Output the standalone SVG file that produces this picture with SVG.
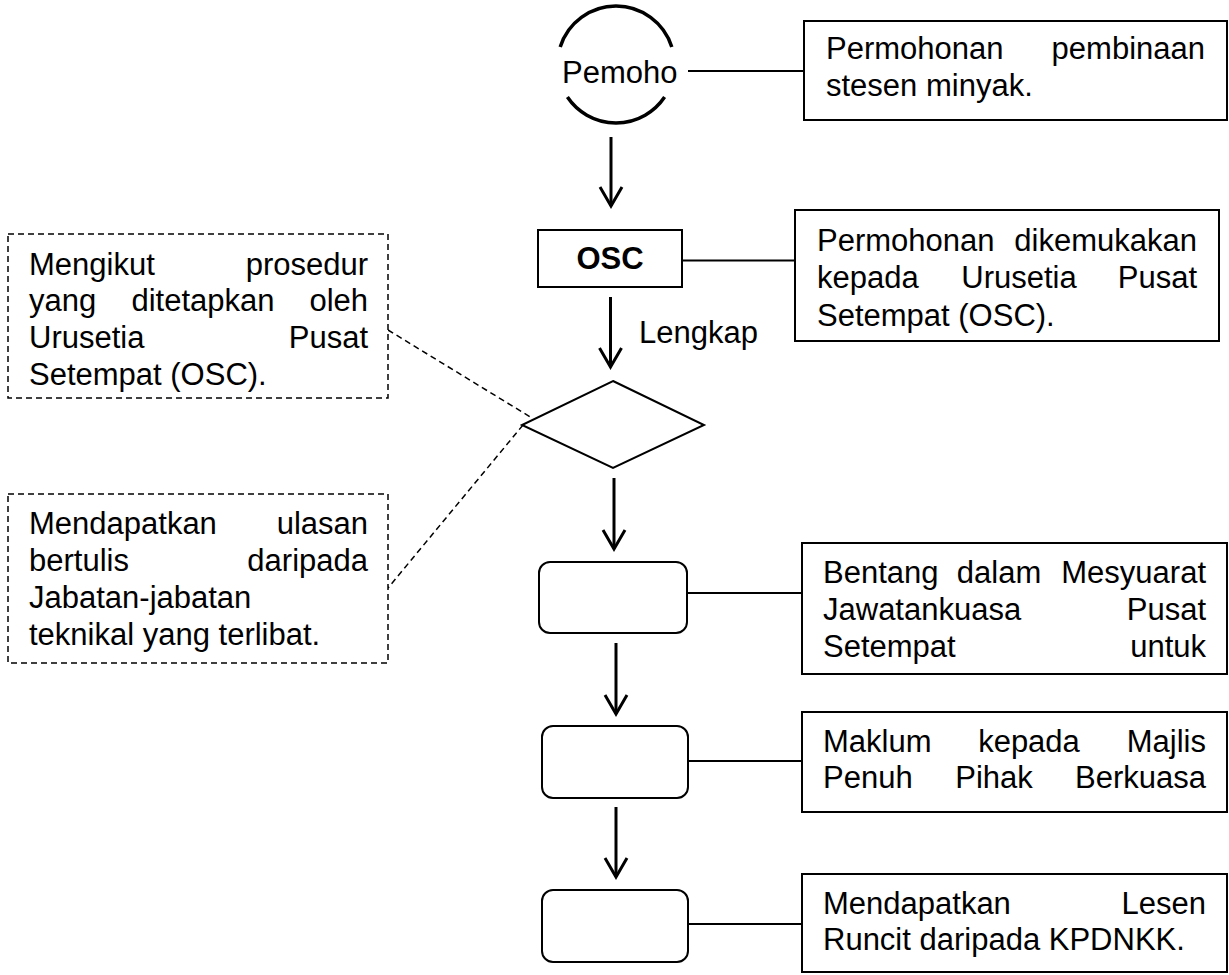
<svg xmlns="http://www.w3.org/2000/svg" width="1229" height="975" viewBox="0 0 1229 975">
<style>
.t{font-family:"Liberation Sans",Arial,sans-serif;font-size:31px;fill:#000}
.e{text-anchor:end}
.m{text-anchor:middle}
.b{font-weight:bold}
.box{fill:#fff;stroke:#000;stroke-width:2}
.dbox{fill:#fff;stroke:#000;stroke-width:1.5;stroke-dasharray:6 4}
.ln{stroke:#000;stroke-width:2;fill:none}
.dl{stroke:#000;stroke-width:1.5;stroke-dasharray:6 4;fill:none}
.ar{stroke:#000;stroke-width:3;fill:none;marker-end:url(#head)}
</style>
<defs>
<marker id="head" markerUnits="userSpaceOnUse" markerWidth="40" markerHeight="40" refX="0" refY="0" orient="auto" overflow="visible">
<path d="M-19,-11 L0,0 L-19,11" fill="none" stroke="#000" stroke-width="3" stroke-linejoin="miter"/>
</marker>
</defs>
<rect width="1229" height="975" fill="#fff"/>
<g id="connectors">
<line class="ln" x1="688" y1="71" x2="804" y2="71"/>
<line class="ln" x1="682" y1="260.5" x2="795" y2="260.5"/>
<line class="ln" x1="687" y1="593" x2="802" y2="593"/>
<line class="ln" x1="688" y1="761" x2="802" y2="761"/>
<line class="ln" x1="688" y1="924" x2="802" y2="924"/>
<line class="dl" x1="388" y1="330" x2="532" y2="418"/>
<line class="dl" x1="523" y1="425" x2="388" y2="588"/>
<line class="ar" x1="611" y1="137" x2="611" y2="206"/>
<line class="ar" x1="610.5" y1="297" x2="610.5" y2="367"/>
<line class="ar" x1="614" y1="478" x2="614" y2="549"/>
<line class="ar" x1="616" y1="643" x2="616" y2="714"/>
<line class="ar" x1="616" y1="807" x2="616" y2="877"/>
</g>
<g id="start">
<path d="M560.2,47 A58.5,58.5 0 0 1 671.8,47" fill="none" stroke="#000" stroke-width="3.5"/>
<path d="M567.4,97 A58.5,58.5 0 0 0 664.6,97" fill="none" stroke="#000" stroke-width="3.5"/>
<text class="t" x="562" y="83">Pemoho</text>
</g>
<g id="note1">
<rect class="box" x="804" y="21" width="423" height="99"/>
<text class="t" x="826" y="59">Permohonan</text>
<text class="t e" x="1205" y="59">pembinaan</text>
<text class="t" x="826" y="96">stesen minyak.</text>
</g>
<g id="osc">
<rect class="box" x="538" y="230" width="144" height="57"/>
<text class="t b m" x="610" y="269">OSC</text>
</g>
<g id="note2">
<rect class="box" x="795" y="210" width="424" height="131"/>
<text class="t" x="817" y="251">Permohonan</text>
<text class="t e" x="1197" y="251">dikemukakan</text>
<text class="t" x="817" y="288">kepada</text>
<text class="t m" x="1019" y="288">Urusetia</text>
<text class="t e" x="1197" y="288">Pusat</text>
<text class="t" x="817" y="325.5">Setempat (OSC).</text>
</g>
<g id="label-lengkap">
<text class="t" x="639" y="343">Lengkap</text>
</g>
<g id="decision">
<polygon points="613,381 704,425 613,468 522,425" fill="#fff" stroke="#000" stroke-width="2"/>
</g>
<g id="side1">
<rect class="dbox" x="8" y="234" width="380" height="164"/>
<text class="t" x="29" y="275">Mengikut</text>
<text class="t e" x="368" y="275">prosedur</text>
<text class="t" x="29" y="311">yang</text>
<text class="t m" x="203" y="311">ditetapkan</text>
<text class="t e" x="368" y="311">oleh</text>
<text class="t" x="29" y="348">Urusetia</text>
<text class="t e" x="368" y="348">Pusat</text>
<text class="t" x="29" y="385">Setempat (OSC).</text>
</g>
<g id="side2">
<rect class="dbox" x="8" y="494" width="380" height="169"/>
<text class="t" x="29" y="534">Mendapatkan</text>
<text class="t e" x="368" y="534">ulasan</text>
<text class="t" x="29" y="571">bertulis</text>
<text class="t e" x="368" y="571">daripada</text>
<text class="t" x="29" y="608">Jabatan-jabatan</text>
<text class="t" x="29" y="645">teknikal yang terlibat.</text>
</g>
<g id="step1">
<rect class="box" x="539" y="562" width="148" height="71" rx="11"/>
</g>
<g id="note3">
<rect class="box" x="802" y="543" width="425" height="131"/>
<text class="t" x="823" y="583">Bentang</text>
<text class="t m" x="999" y="583">dalam</text>
<text class="t e" x="1206" y="583">Mesyuarat</text>
<text class="t" x="823" y="620">Jawatankuasa</text>
<text class="t e" x="1206" y="620">Pusat</text>
<text class="t" x="823" y="657">Setempat</text>
<text class="t e" x="1206" y="657">untuk</text>
</g>
<g id="step2">
<rect class="box" x="542" y="726" width="146" height="72" rx="11"/>
</g>
<g id="note4">
<rect class="box" x="802" y="712" width="425" height="100"/>
<text class="t" x="823" y="752">Maklum</text>
<text class="t m" x="1029" y="752">kepada</text>
<text class="t e" x="1206" y="752">Majlis</text>
<text class="t" x="823" y="788">Penuh</text>
<text class="t m" x="994" y="788">Pihak</text>
<text class="t e" x="1206" y="788">Berkuasa</text>
</g>
<g id="step3">
<rect class="box" x="542" y="890" width="146" height="72" rx="11"/>
</g>
<g id="note5">
<rect class="box" x="802" y="874" width="425" height="98"/>
<text class="t" x="823" y="914">Mendapatkan</text>
<text class="t e" x="1206" y="914">Lesen</text>
<text class="t" x="823" y="950">Runcit daripada KPDNKK.</text>
</g>
</svg>
